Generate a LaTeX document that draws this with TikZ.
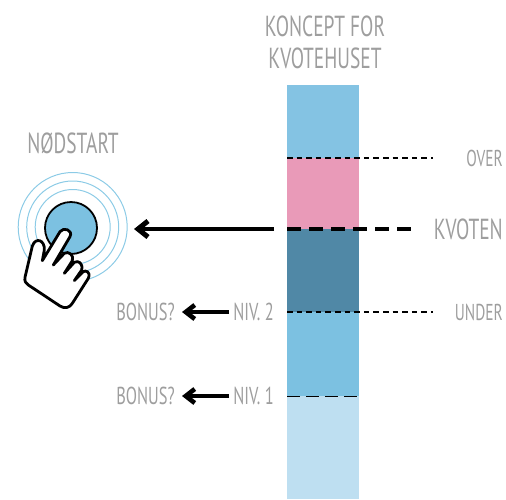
\documentclass[tikz,border=0pt]{standalone}
\usepackage{fontspec}
\setmainfont[FakeStretch=0.67]{PT Sans}
\definecolor{txt}{HTML}{9E9E9E}
\definecolor{topblue}{HTML}{84C3E3}
\definecolor{pinkq}{HTML}{E99AB8}
\definecolor{deep}{HTML}{5088A6}
\definecolor{midblue}{HTML}{7CC1E1}
\definecolor{pale}{HTML}{BEDFF1}
\definecolor{ringc}{HTML}{8CCBE6}
\usetikzlibrary{arrows.meta}
\tikzset{
 x=1pt,y=-1pt,
 lab/.style={text=txt,inner sep=0pt,font=\fontsize{24.5}{28}\selectfont,align=center},
 labr/.style={lab,font=\fontsize{23}{28}\selectfont},
 big/.style={lab,font=\fontsize{29}{34}\selectfont},
 head/.style={lab,font=\fontsize{29}{33}\selectfont},
 smallarrow/.style={line width=3.3pt,-{Straight Barb[length=9pt,width=14pt,line width=4.6pt]}},
 bigarrow/.style={line width=3.6pt,-{Straight Barb[length=10pt,width=16pt,line width=5pt]}},
 thindash/.style={line width=1.8pt,dash pattern=on 5.5pt off 4.1pt},
 thickdash/.style={line width=3.6pt,dash pattern=on 14pt off 8pt},
 longdash/.style={line width=1pt,dash pattern=on 13pt off 6pt},
 ring/.style={draw=ringc,line width=1pt,circle,inner sep=0pt,outer sep=0pt},
}
\begin{document}
\begin{tikzpicture}
\useasboundingbox (0,0) rectangle (506,499);
% column
\fill[topblue] (287,85) rectangle (359,158);
\fill[pinkq] (287,158) rectangle (359,229);
\fill[deep] (287,229) rectangle (359,312);
\fill[midblue] (287,312) rectangle (359,396);
\fill[pale] (287,396) rectangle (359,499);
% labels
\node[head] (title) at (325,42) {KONCEPT FOR\\[-1pt]KVOTEHUSET};
\node[head] (nod) at (73,143) {NØDSTART};
\node[labr,anchor=east] (over) at (503,158) {OVER};
\node[big,anchor=east] (kvoten) at (503,229) {KVOTEN};
\node[labr,anchor=east] (under) at (503,312) {UNDER};
\node[lab,anchor=east] (niv2) at (274,312) {NIV. 2};
\node[lab,anchor=east] (niv1) at (274,396) {NIV. 1};
\node[lab,anchor=east] (bon2) at (175,312) {BONUS?};
\node[lab,anchor=east] (bon1) at (175,396) {BONUS?};
% level lines
\coordinate (o0) at (287,158); \coordinate (o1) at (433,158);
\coordinate (k0) at (287,229); \coordinate (k1) at (412,229);
\coordinate (u0) at (287,312); \coordinate (u1) at (433,312);
\coordinate (n0) at (287,396); \coordinate (n1) at (359,396);
\draw[thindash] (o0)--(o1);
\draw[thickdash] (k0)--(k1);
\draw[thindash] (u0)--(u1);
\draw[longdash] (n0)--(n1);
% arrows
\coordinate (as) at (274,229); \coordinate (ae) at (134,229);
\coordinate (a2s) at (229,312); \coordinate (a2e) at (182,312);
\coordinate (a1s) at (229,396); \coordinate (a1e) at (182,396);
\draw[bigarrow] (as)--(ae);
\draw[smallarrow] (a2s)--(a2e);
\draw[smallarrow] (a1s)--(a1e);
% button
\node[ring,minimum size=109pt] (r3) at (72.7,227) {};
\node[ring,minimum size=92pt] (r2) at (72.7,227) {};
\node[ring,minimum size=75pt] (r1) at (72.7,227) {};
\node[circle,draw=black,fill=midblue,line width=1.8pt,minimum size=52pt,inner sep=0pt] (btn) at (71,228) {};
% hand
\begin{scope}[shift={(15,220)},x=0.3333pt,y=-0.3333pt]
\draw[fill=white,line width=2.8pt,line join=round,line cap=round]
 (82,122) -- (88,90)
 .. controls (90,60) and (62,50) .. (52,78)
 -- (30,172)
 .. controls (28,183) and (32,190) .. (40,195)
 -- (135,258)
 .. controls (150,268) and (165,262) .. (172,250)
 -- (220,175)
 .. controls (228,155) and (212,150) .. (205,155)
 -- (178,182)
 -- (200,150)
 .. controls (205,130) and (190,120) .. (178,127)
 -- (148,160)
 -- (172,122)
 .. controls (178,105) and (160,92) .. (148,100)
 -- (115,135)
 -- (165,50)
 .. controls (175,30) and (145,20) .. (135,35)
 -- cycle;
\end{scope}
\end{tikzpicture}
\end{document}
